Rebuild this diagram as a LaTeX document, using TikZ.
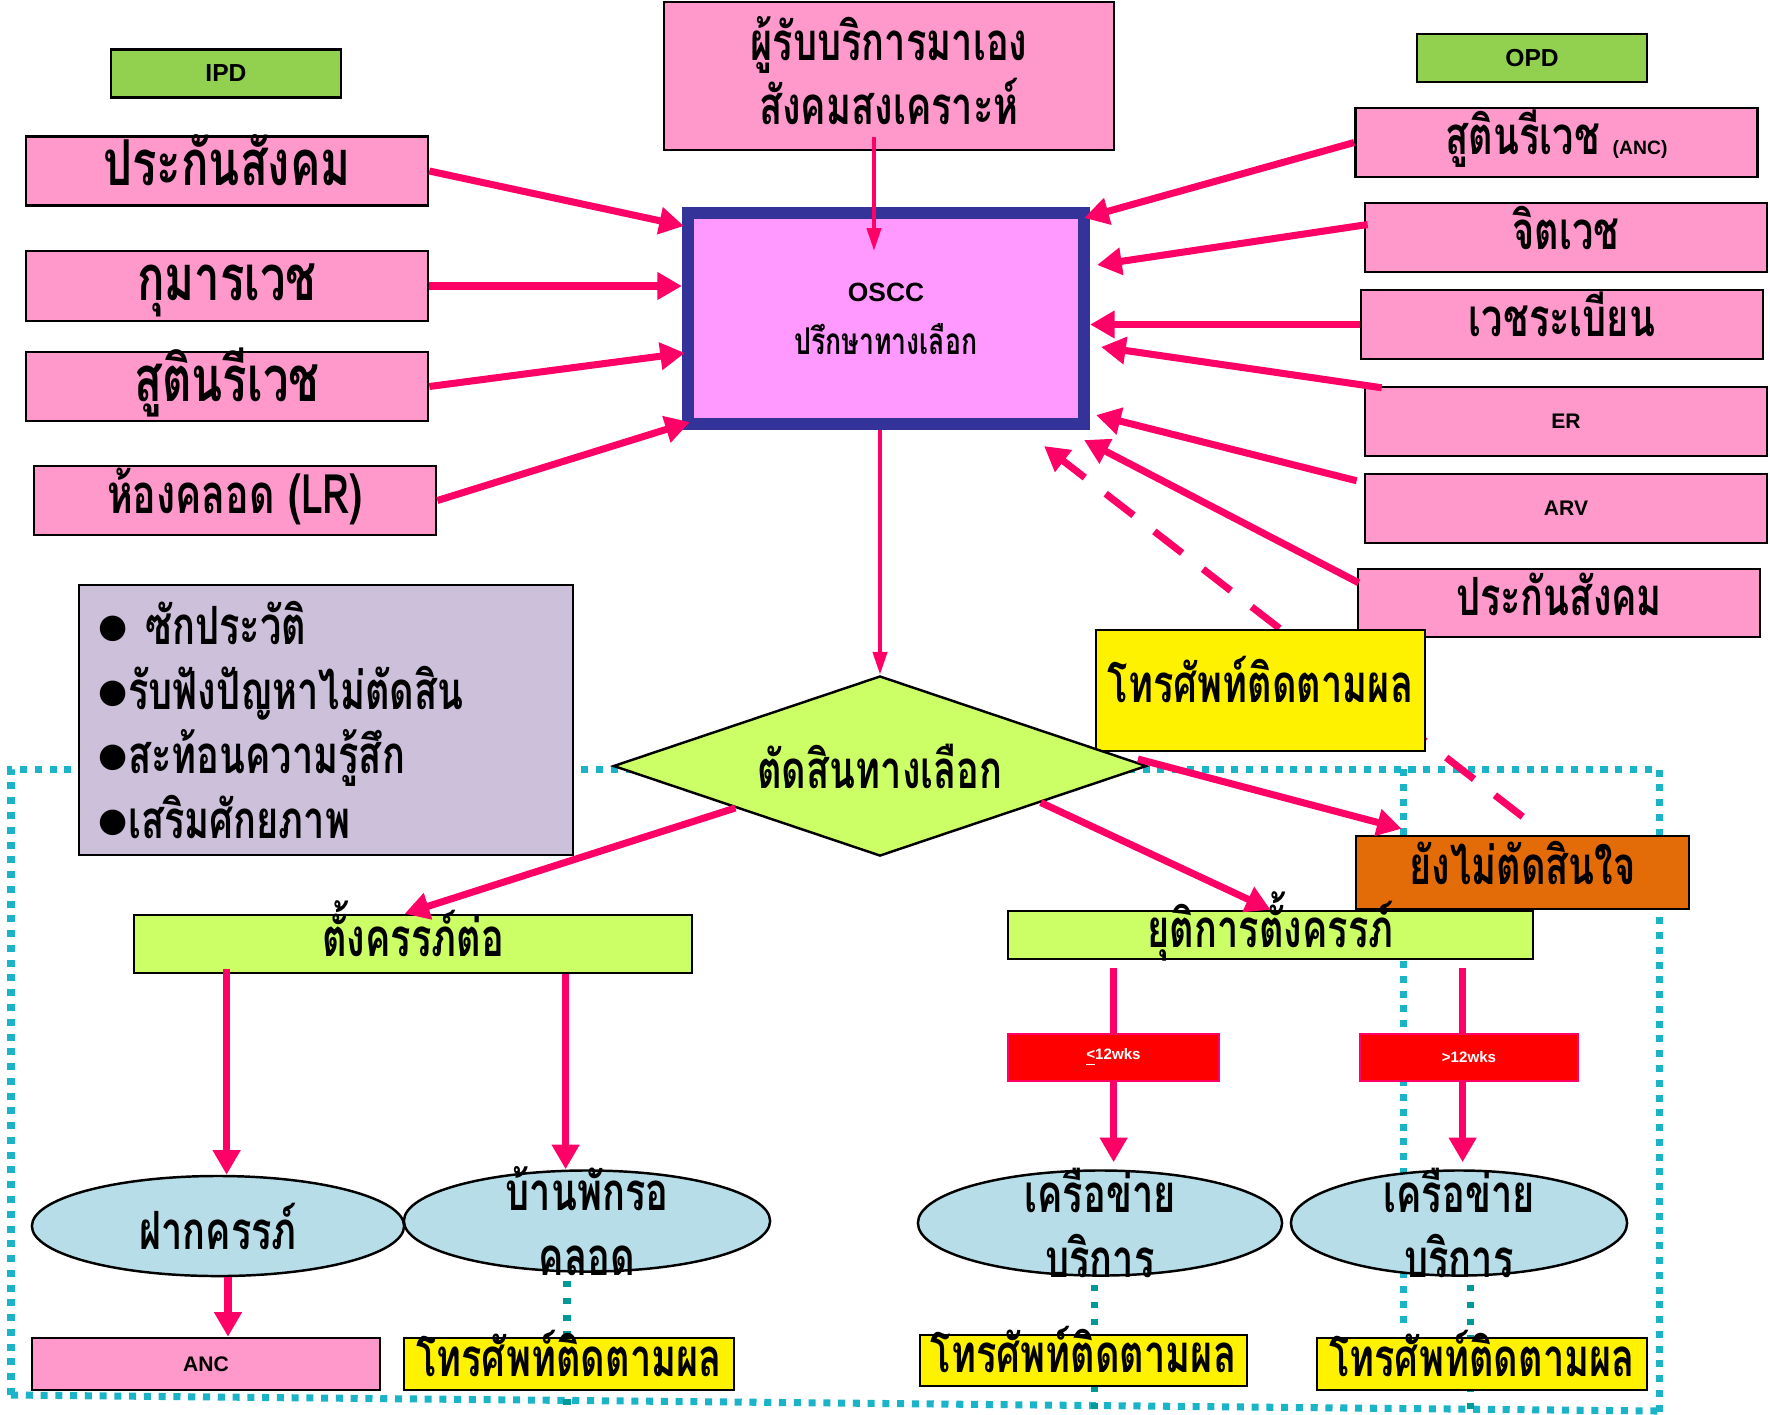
\documentclass[tikz,border=0pt]{standalone}
\usepackage{fontspec}
\setmainfont{Liberation Sans}
\newfontfamily\thai[Script=Thai,FakeStretch=0.72]{Loma}
\newfontfamily\lat{Liberation Sans}
\newfontfamily\symb{DejaVu Sans}
\usetikzlibrary{arrows.meta,positioning,shapes.geometric,calc,backgrounds}
\definecolor{boxpink}{HTML}{FF99CC}
\definecolor{osccpink}{HTML}{FF99FF}
\definecolor{osccblue}{HTML}{333399}
\definecolor{labgreen}{HTML}{92D050}
\definecolor{limegreen}{HTML}{CCFF66}
\definecolor{lilac}{HTML}{CCC0DA}
\definecolor{decorange}{HTML}{E36C09}
\definecolor{pale}{HTML}{B7DEE8}
\definecolor{arrpink}{HTML}{FF0066}
\definecolor{dotcyan}{HTML}{1AB3C8}
\definecolor{dotteal}{HTML}{009999}
\newcommand{\thbig}{\thai\bfseries\fontsize{18}{22}\selectfont}
\newcommand{\thlr}{\thai\bfseries\fontsize{15.5}{19}\selectfont}
\newcommand{\thmd}{\thai\bfseries\fontsize{15}{18.3}\selectfont}
\newcommand{\thsm}{\thai\bfseries\fontsize{10.5}{15}\selectfont}
\newcommand{\latsm}{\lat\bfseries\fontsize{6}{7}\selectfont}
\newcommand{\dotb}{\raisebox{2pt}{\symb\fontsize{9.5}{9}\selectfont ●}}

\begin{document}
\begin{tikzpicture}[x=0.01cm, y=-0.01cm,
  bx/.style={draw, line width=0.7pt, inner sep=0pt, align=center},
  one/.style={text height=7pt, text depth=0pt},
  pk/.style={bx, one, fill=boxpink, minimum width=4.02cm, minimum height=0.69cm, font=\thmd},
  lab/.style={bx, fill=labgreen, minimum width=2.3cm, minimum height=0.48cm, font=\lat\bfseries\fontsize{7}{8}\selectfont},
  lime/.style={bx, one, fill=limegreen, font=\thmd},
  tel/.style={bx, one, fill=yellow, minimum width=3.3cm, minimum height=0.52cm, font=\thmd},
  oval/.style={ellipse, draw, line width=0.7pt, fill=pale, inner sep=0pt, font=\thmd},
  lbl/.style={align=center, font=\thmd},
  wk/.style={draw=arrpink, line width=0.5pt, fill=red, text=white, minimum height=0.47cm, inner sep=0pt, font=\lat\bfseries\fontsize{4.3}{5}\selectfont},
  arr/.style={draw=arrpink, line width=2pt, -{Triangle[length=7pt,width=7.5pt]}},
  arrthin/.style={draw=arrpink, line width=1.1pt, -{Triangle[length=6.5pt,width=4pt]}},
  dots/.style={draw=dotcyan, line width=2pt, dash pattern=on 2pt off 2.2pt},
  tealdots/.style={draw=dotteal, line width=2pt, dash pattern=on 1.8pt off 3pt}]
\useasboundingbox (0,0) rectangle (1770,1414);
% top row
\node[lab] (ipd) at (226,73.5) {IPD};
\node[lab] (opd) at (1532,58) {OPD};
\node[pk, minimum width=4.5cm, minimum height=1.48cm, label={[lbl, yshift=1.5pt]center:{ผู้รับบริการมาเอง\\สังคมสงเคราะห์}}] (self) at (889,76) {};
\node[draw=osccblue, line width=3.4pt, fill=osccpink, minimum width=3.96cm, minimum height=2.11cm, align=center, font=\thsm] (oscc) at (886,318.5) {{\lat\bfseries\fontsize{7.5}{8}\selectfont OSCC}\\ปรึกษาทางเลือก};
% IPD side
\node[pk, font=\thbig, text height=8.5pt] (lpc) at (227,171) {ประกันสังคม};
\node[pk, font=\thbig, text height=8.5pt, minimum height=0.7cm] (lkm) at (227,286) {กุมารเวช};
\node[pk, font=\thbig, text height=8.5pt] (lsu) at (227,386.5) {สูตินรีเวช};
\node[pk, font=\thlr, text height=7.5pt] (llr) at (235,500.5) {ห้องคลอด (LR)};
% OPD side
\node[pk] (ranc) at (1556.5,142.5) {สูตินรีเวช {\lat\bfseries\fontsize{5.5}{6}\selectfont (ANC)}};
\node[pk] (rjt) at (1566,237.5) {จิตเวช};
\node[pk] (rwr) at (1562,324.5) {เวชระเบียน};
\node[pk, font=\latsm, text height=] (rer) at (1566,421.5) {ER};
\node[pk, font=\latsm, text height=] (rarv) at (1566,508.5) {ARV};
\node[pk, minimum height=0.68cm] (rpc) at (1559,603) {ประกันสังคม};
\node[tel, minimum width=3.29cm, minimum height=1.21cm] (telmid) at (1260.5,690.5) {โทรศัพท์ติดตามผล};
% decision
\node[bx, fill=lilac, minimum width=4.94cm, minimum height=2.7cm, text width=4.54cm, align=left, font=\thmd] (talk) at (326,720) {\dotb\ ซักประวัติ\\\dotb รับฟังปัญหาไม่ตัดสิน\\\dotb สะท้อนความรู้สึก\\\dotb เสริมศักยภาพ};
\node[diamond, draw, line width=0.7pt, fill=limegreen, aspect=2.96, minimum width=5.33cm, minimum height=1.8cm, inner sep=0pt, font=\thmd] (decide) at (880,766) {ตัดสินทางเลือก};
\node[bx, one, fill=decorange, minimum width=3.33cm, minimum height=0.73cm, font=\thmd] (undec) at (1522.5,872.5) {ยังไม่ตัดสินใจ};
\node[lime, minimum width=5.58cm, minimum height=0.58cm] (cont) at (413,944) {ตั้งครรภ์ต่อ};
\node[lime, minimum width=5.25cm, minimum height=0.48cm] (term) at (1270.5,935) {ยุติการตั้งครรภ์};
% services
\node[oval, minimum width=3.72cm, minimum height=1cm] (fak) at (218,1226) {ฝากครรภ์};
\node[oval, minimum width=3.66cm, minimum height=1.01cm, label={[lbl]center:{บ้านพักรอ\\คลอด}}] (wait) at (587,1221) {};
\node[oval, minimum width=3.64cm, minimum height=1.05cm, label={[lbl]center:{เครือข่าย\\บริการ}}] (net1) at (1100,1223) {};
\node[oval, minimum width=3.36cm, minimum height=1.05cm, label={[lbl]center:{เครือข่าย\\บริการ}}] (net2) at (1459,1223) {};
\node[pk, minimum width=3.48cm, minimum height=0.52cm, font=\latsm, text height=] (ancb) at (206,1364) {ANC};
\node[tel] (tel1) at (569,1364) {โทรศัพท์ติดตามผล};
\node[tel, minimum width=3.27cm, minimum height=0.51cm] (tel2) at (1083.5,1360.5) {โทรศัพท์ติดตามผล};
\node[tel] (tel3) at (1482,1364) {โทรศัพท์ติดตามผล};
% arrows in
\draw[arr] (lpc.east) -- ($(oscc.north west)+(2,19)$);
\draw[arr] (lkm.east) -- (lkm.east -| oscc.west);
\draw[arr] (lsu.east) -- ($(oscc.north west)+(3,146)$);
\draw[arr] (llr.east) -- ($(oscc.south west)+(8,-8)$);
\draw[arrthin] ($(self.south)+(-15,-14)$) -- ($(oscc.north)+(-12,44)$);
\draw[arr] (ranc.west) -- ($(oscc.north east)+(-6,11)$);
\draw[arr] ($(rjt.west)+(4,-13)$) -- ($(oscc.north east)+(7,58)$);
\draw[arr] (rwr.west) -- (rwr.west -| oscc.east);
\draw[arr] ($(rer.north west)+(18,2)$) -- ($(oscc.north east)+(11,140)$);
\draw[arr] ($(rarv.north west)+(-7,8)$) -- ($(oscc.south east)+(6,-15)$);
\draw[arr] ($(rpc.north west)+(2,15)$) -- ($(oscc.south east)+(-6,10)$);
% arrows out
\draw[arrthin] (oscc.south -| decide.north) -- (decide.north);
\draw[arr] ($(decide.west)!0.46!(decide.south)$) -- ($(cont.north west)+(272,0)$);
\draw[arr] ($(decide.east)+(-10,-7)$) -- ($(undec.north west)+(47,-6)$);
\draw[arr] ($(decide.south)!0.6!(decide.east)$) -- (term.north);
\coordinate (s1) at ($(cont.south west)+(94,-5)$);
\coordinate (s2) at ($(cont.south west)+(433,0)$);
\coordinate (s3) at ($(term.south west)+(107,8)$);
\coordinate (s4) at ($(term.south west)+(456,8)$);
\coordinate (s5) at ($(fak.south)+(10,0)$);
\draw[arr] (s1) -- (s1 |- fak.north);
\draw[arr] (s2) -- (s2 |- wait.north);
\draw[arr, shorten >=2pt] (s3) -- (s3 |- net1.north);
\draw[arr, shorten >=2pt] (s4) -- (s4 |- net2.north);
\draw[arr] (s5) -- (s5 |- ancb.north);
\node[wk, minimum width=2.11cm] (le12) at (1113.5,1057.5) {\underline{<}12wks};
\node[wk, minimum width=2.18cm] (gt12) at (1469,1057.5) {>12wks};
% frames
\begin{scope}[on background layer]
\draw[dots] (11,1395) -- (11,769) -- (1659,769) -- (1659,1414);
\draw[dots] (11,1395) -- (1659,1411);
\draw[dots] (1403,769) -- (1403,1327);
\draw[tealdots] ($(wait.south)+(-20,8)$) -- ++(0,140);
\draw[tealdots] ($(net1.south)+(-6,8)$) -- ++(0,140);
\draw[tealdots] ($(net2.south)+(11,8)$) -- ++(0,140);
\draw[arr, dash pattern=on 10pt off 7.5pt] ($(undec.north west)+(168,-18)$) -- ($(oscc.south east)+(-46,16)$);
\end{scope}
\end{tikzpicture}
\end{document}
